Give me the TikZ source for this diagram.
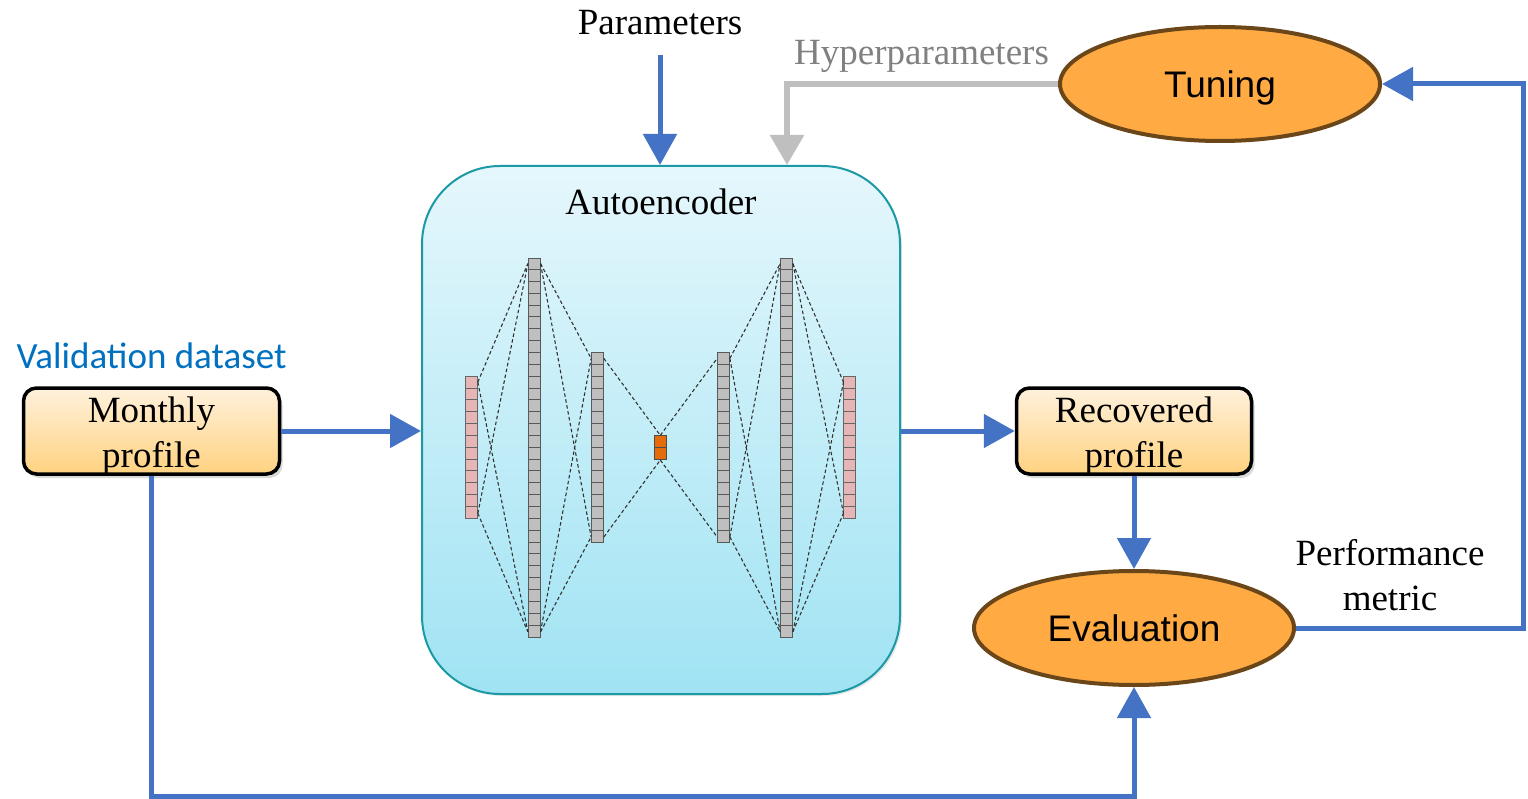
\documentclass[tikz,border=0pt]{standalone}
\usepackage{fontspec}
\setmainfont{Liberation Serif}
\newfontfamily\arialfont{Liberation Sans}
\newfontfamily\calibrifont{Carlito}
\usetikzlibrary{arrows.meta,shapes.geometric,shadows,calc}

\definecolor{flowblue}{HTML}{4472C4}
\definecolor{hypgray}{HTML}{BFBFBF}
\definecolor{hyptext}{HTML}{808080}
\definecolor{ellfill}{HTML}{FFAA42}
\definecolor{ellborder}{HTML}{6B4618}
\definecolor{aetop}{HTML}{E5F7FC}
\definecolor{aebottom}{HTML}{A0E3F3}
\definecolor{aeborder}{HTML}{1B9AA6}
\definecolor{boxtop}{HTML}{FFF1DC}
\definecolor{boxbottom}{HTML}{FFD280}
\definecolor{cellgray}{HTML}{BFBFBF}
\definecolor{cellpink}{HTML}{E6B5B5}
\definecolor{cellorange}{HTML}{E46C0A}
\definecolor{valblue}{HTML}{0070C0}

\tikzset{
  bigserif/.style={font=\fontsize{37}{45}\selectfont},
  flow/.style={draw=flowblue, line width=5pt, -{Triangle[length=31pt,width=33pt]}},
  hyper/.style={draw=hypgray, line width=6pt, -{Triangle[length=30pt,width=33pt]}},
  aebox/.style={rectangle, rounded corners=78pt, draw=aeborder, line width=2pt,
    top color=aetop, bottom color=aebottom, inner sep=0pt,
    minimum width=478pt, minimum height=528pt,
    drop shadow={shadow xshift=2pt, shadow yshift=-2pt, opacity=0.18}},
  profbox/.style={rectangle, rounded corners=13pt, draw=black, line width=3.5pt,
    top color=boxtop, bottom color=boxbottom, inner sep=0pt, minimum height=86pt,
    drop shadow={shadow xshift=3pt, shadow yshift=-4pt, opacity=0.3}},
  ellnode/.style={ellipse, draw=ellborder, line width=4pt, fill=ellfill,
    minimum width=320pt, minimum height=114pt, inner sep=0pt, text depth=0pt,
    font=\arialfont\fontsize{37}{44}\selectfont},
  cellcol/.style={rectangle, inner sep=0pt, line width=1pt, minimum width=11.7pt},
  celldiv/.style={line width=0.9pt},
  nnlink/.style={draw=black!80, line width=1.1pt, dash pattern=on 3.5pt off 2.5pt},
}

% one layer of the network: a column of square cells
\newcommand{\nnlayer}[5]{%
  \pgfmathsetmacro\nncolh{#3*11.85}%
  \pgfmathtruncatemacro\nnlast{#3-1}%
  \node[cellcol, fill=#4, draw=#5, minimum height=\nncolh pt] (#1) at (#2,447.7) {};
  \foreach \k in {1,...,\nnlast}{%
    \draw[celldiv, draw=#5] ($(#1.north west)+(0,\k*11.85)$) -- ($(#1.north east)+(0,\k*11.85)$);
  }%
}
% full set of dashed links between two neighbouring layers
\newcommand{\nnlinks}[2]{%
  \draw[nnlink] ([yshift=-6pt]#1.north east) -- ([yshift=-6pt]#2.north west);
  \draw[nnlink] ([yshift=-6pt]#1.north east) -- ([yshift=6pt]#2.south west);
  \draw[nnlink] ([yshift=6pt]#1.south east) -- ([yshift=-6pt]#2.north west);
  \draw[nnlink] ([yshift=6pt]#1.south east) -- ([yshift=6pt]#2.south west);
}

\begin{document}
\begin{tikzpicture}[x=1pt, y=-1pt]
\useasboundingbox (0,0) rectangle (1528,799);

% autoencoder container
\node[aebox] (ae) at (661,430) {};
\node[bigserif, anchor=base] (aetitle) at (661,215) {Autoencoder};

% network layers
\nnlayer{la}{471.5}{12}{cellpink}{black!60}
\nnlayer{lb}{534.2}{32}{cellgray}{black!65}
\nnlayer{lc}{597.5}{16}{cellgray}{black!65}
\nnlayer{ld}{660.3}{2}{cellorange}{black!70}
\nnlayer{le}{723.5}{16}{cellgray}{black!65}
\nnlayer{lf}{786.5}{32}{cellgray}{black!65}
\nnlayer{lg}{849.8}{12}{cellpink}{black!60}

\nnlinks{la}{lb}
\nnlinks{lb}{lc}
\draw[nnlink] ([yshift=-6pt]lc.north east) -- (ld.north);
\draw[nnlink] ([yshift=6pt]lc.south east) -- (ld.south);
\draw[nnlink] (ld.north) -- ([yshift=-6pt]le.north west);
\draw[nnlink] (ld.south) -- ([yshift=6pt]le.south west);
\nnlinks{le}{lf}
\nnlinks{lf}{lg}

% input and output profiles
\node[profbox, minimum width=256pt] (mp) at (151.5,431) {};
\node[bigserif, anchor=base] (mpa) at (151.5,422) {Monthly};
\node[bigserif, anchor=base] (mpb) at (151.5,467) {profile};
\node[font=\calibrifont\fontsize{37}{44}\selectfont, text=valblue, anchor=base] (valds) at (151.5,369) {Validation dataset};

\node[profbox, minimum width=235pt] (rp) at (1134,431) {};
\node[bigserif, anchor=base] (rpa) at (1134,422) {Recovered};
\node[bigserif, anchor=base] (rpb) at (1134,467) {profile};

% evaluation and tuning
\node[ellnode] (eval) at (1134,628) {Evaluation};
\node[ellnode] (tuning) at (1220,84) {Tuning};

% labels
\node[bigserif, anchor=base] (params) at (660,35) {Parameters};
\node[bigserif, anchor=base, text=hyptext] (hyp) at (921.5,65) {Hyperparameters};
\node[bigserif, anchor=base] (perfa) at (1390,565) {Performance};
\node[bigserif, anchor=base] (perfb) at (1390,610) {metric};

% connectors
\coordinate (paramsrc) at (660,55);
\draw[flow] (paramsrc) -- (paramsrc |- ae.north);
\draw[hyper] (tuning.west) -| ([xshift=126pt]ae.north);
\draw[flow] (mp.east) -- (mp.east -| ae.west);
\draw[flow] (rp.west -| ae.east) -- (rp.west);
\draw[flow] (rp.south) -- (eval.north);
\coordinate (fbx) at (1523.5,350);
\draw[flow] (eval.east) -| (fbx) |- (tuning.east);
\coordinate (botrun) at (640,796);
\draw[flow] (mp.south) |- (botrun) -| (eval.south);
\end{tikzpicture}
\end{document}
